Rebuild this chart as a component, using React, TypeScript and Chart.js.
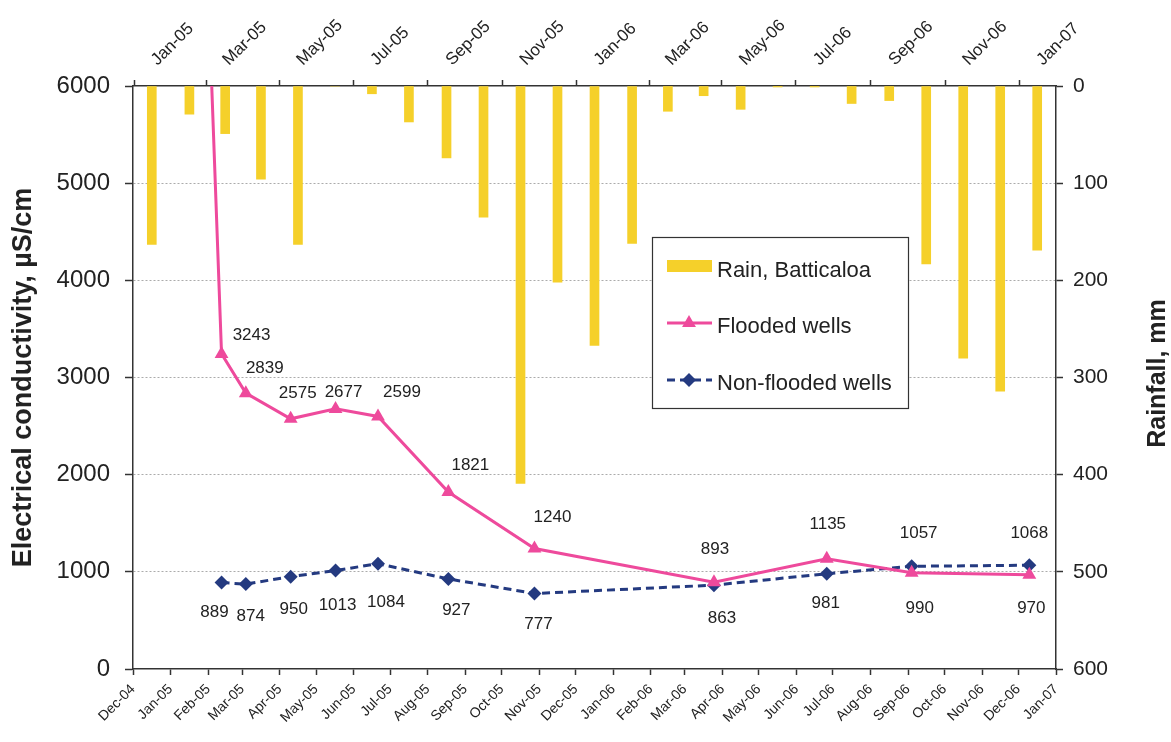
import React, { useEffect, useRef } from 'react';
import { Chart, registerables } from 'chart.js';

Chart.register(...registerables);

const FONT = '"Liberation Sans", Arial, Helvetica, sans-serif';

// ---------- data ----------
const bottomTickLabels = ['Dec-04','Jan-05','Feb-05','Mar-05','Apr-05','May-05','Jun-05','Jul-05','Aug-05','Sep-05','Oct-05','Nov-05','Dec-05','Jan-06','Feb-06','Mar-06','Apr-06','May-06','Jun-06','Jul-06','Aug-06','Sep-06','Oct-06','Nov-06','Dec-06','Jan-07'];
const topTickLabels = ['Jan-05','Mar-05','May-05','Jul-05','Sep-05','Nov-05','Jan-06','Mar-06','May-06','Jul-06','Sep-06','Nov-06','Jan-07'];

const rainMonths = ['2004-12','2005-01','2005-02','2005-03','2005-04','2005-05','2005-06','2005-07','2005-08','2005-09','2005-10','2005-11','2005-12','2006-01','2006-02','2006-03','2006-04','2006-05','2006-06','2006-07','2006-08','2006-09','2006-10','2006-11','2006-12'];
const rainMm = [163, 29, 49, 96, 163, 0, 8, 37, 74, 135, 409, 202, 267, 162, 26, 10, 24, 1, 1, 18, 15, 183, 280, 314, 169];

const floodedDates = ['2005-01-10','2005-02-12','2005-03-04','2005-04-10','2005-05-17','2005-06-21','2005-08-18','2005-10-28','2006-03-25','2006-06-26','2006-09-04','2006-12-10'];
const floodedEC = [14500, 3243, 2839, 2575, 2677, 2599, 1821, 1240, 893, 1135, 990, 970];

const nonFloodedDates = ['2005-02-12','2005-03-04','2005-04-10','2005-05-17','2005-06-21','2005-08-18','2005-10-28','2006-03-25','2006-06-26','2006-09-04','2006-12-10'];
const nonFloodedEC = [889, 874, 950, 1013, 1084, 927, 777, 863, 981, 1057, 1068];

// ---------- label placement (pixel offsets from the point) ----------
const floodedLabelOffsets: (number[] | null)[] = [null, [30,-19], [19,-25], [7,-25], [8,-17], [24,-24], [22,-27], [18,-31], [1,-33], [1,-34], [8,36], [2,34]];
const nonFloodedLabelOffsets: (number[] | null)[] = [[-7,30], [5,32], [3,33], [2,35], [8,39], [8,31], [4,31], [8,33], [-1,30], [7,-33], [0,-32]];

// ---------- helpers ----------
const MONTHS = ['Jan','Feb','Mar','Apr','May','Jun','Jul','Aug','Sep','Oct','Nov','Dec'];
const DAY = 86400000;
const ORIGIN = Date.UTC(2004, 11, 1);
const dayOf = (iso: string) => {
  const [y, m, d] = iso.split('-').map(Number);
  return (Date.UTC(y, m - 1, d || 1) - ORIGIN) / DAY;
};
const labelDay = (lbl: string) => {
  const [mon, yy] = lbl.split('-');
  return (Date.UTC(2000 + Number(yy), MONTHS.indexOf(mon), 1) - ORIGIN) / DAY;
};
const midMonth = (ym: string) => {
  const [y, m] = ym.split('-').map(Number);
  return ((Date.UTC(y, m - 1, 1) + Date.UTC(y, m, 1)) / 2 - ORIGIN) / DAY;
};

const X_MIN = labelDay(bottomTickLabels[0]);
const X_MAX = labelDay(bottomTickLabels[bottomTickLabels.length - 1]);

const PINK = '#EE4A9C';
const NAVY = '#243A80';
const YELLOW = '#F5D02A';
const TEXT = '#222';
const AXIS = '#333';

const valueLabelsPlugin = {
  id: 'valueLabels',
  afterDatasetsDraw(chart: any) {
    const { ctx } = chart;
    ctx.save();
    ctx.font = `17px ${FONT}`;
    ctx.fillStyle = TEXT;
    ctx.textAlign = 'center';
    ctx.textBaseline = 'middle';
    const sets: [number, (number[] | null)[], number[]][] = [
      [1, floodedLabelOffsets, floodedEC],
      [2, nonFloodedLabelOffsets, nonFloodedEC],
    ];
    for (const [di, offs, vals] of sets) {
      const meta = chart.getDatasetMeta(di);
      meta.data.forEach((pt: any, i: number) => {
        const o = offs[i];
        if (!o) return;
        ctx.fillText(String(vals[i]), pt.x + o[0], pt.y + o[1]);
      });
    }
    ctx.restore();
  },
};

const boxLegendPlugin = {
  id: 'boxLegend',
  afterDraw(chart: any) {
    const { ctx, chartArea } = chart;
    const x0 = chartArea.left + 519;
    const y0 = chartArea.top + 151;
    const w = 256, h = 171;
    ctx.save();
    ctx.fillStyle = '#fff';
    ctx.fillRect(x0, y0, w, h);
    ctx.strokeStyle = AXIS;
    ctx.lineWidth = 1.2;
    ctx.strokeRect(x0 + 0.5, y0 + 0.5, w, h);

    const sx1 = x0 + 15, sx2 = x0 + 60, cx = x0 + 37;
    // rain swatch
    ctx.fillStyle = YELLOW;
    ctx.fillRect(sx1, y0 + 23, sx2 - sx1, 12);
    // flooded
    ctx.strokeStyle = PINK;
    ctx.lineWidth = 3;
    ctx.beginPath();
    ctx.moveTo(sx1, y0 + 86);
    ctx.lineTo(sx2, y0 + 86);
    ctx.stroke();
    ctx.fillStyle = PINK;
    ctx.beginPath();
    ctx.moveTo(cx, y0 + 86 - 8);
    ctx.lineTo(cx + 6.93, y0 + 86 + 4);
    ctx.lineTo(cx - 6.93, y0 + 86 + 4);
    ctx.closePath();
    ctx.fill();
    // non flooded
    ctx.strokeStyle = NAVY;
    ctx.setLineDash([8, 5]);
    ctx.beginPath();
    ctx.moveTo(sx1, y0 + 143);
    ctx.lineTo(sx2, y0 + 143);
    ctx.stroke();
    ctx.setLineDash([]);
    ctx.fillStyle = NAVY;
    ctx.beginPath();
    ctx.moveTo(cx, y0 + 143 - 7);
    ctx.lineTo(cx + 7, y0 + 143);
    ctx.lineTo(cx, y0 + 143 + 7);
    ctx.lineTo(cx - 7, y0 + 143);
    ctx.closePath();
    ctx.fill();

    ctx.fillStyle = TEXT;
    ctx.font = `22px ${FONT}`;
    ctx.textAlign = 'left';
    ctx.textBaseline = 'alphabetic';
    const names = chart.data.datasets.map((d: any) => d.label);
    ctx.fillText(names[0], x0 + 65, y0 + 40);
    ctx.fillText(names[1], x0 + 65, y0 + 96);
    ctx.fillText(names[2], x0 + 65, y0 + 153);
    ctx.restore();
  },
};

const rightTitlePlugin = {
  id: 'rightTitle',
  afterDraw(chart: any) {
    const { ctx, chartArea } = chart;
    ctx.save();
    ctx.translate(chartArea.right + 102, (chartArea.top + chartArea.bottom) / 2 - 4);
    ctx.rotate(-Math.PI / 2);
    ctx.font = `bold 25px ${FONT}`;
    ctx.fillStyle = TEXT;
    ctx.textAlign = 'center';
    ctx.textBaseline = 'middle';
    ctx.fillText('Rainfall, mm', 0, 0);
    ctx.restore();
  },
};

export default function App() {
  const ref = useRef<HTMLCanvasElement>(null);

  useEffect(() => {
    document.body.style.margin = '0';
    Chart.defaults.font.family = FONT;
    const chart = new Chart(ref.current as HTMLCanvasElement, {
      type: 'line',
      data: {
        datasets: [
          {
            type: 'bar',
            label: 'Rain, Batticaloa',
            data: rainMonths.map((m, i) => ({ x: midMonth(m), y: rainMm[i] })),
            backgroundColor: YELLOW,
            borderWidth: 0,
            barThickness: 9,
            xAxisID: 'x',
            yAxisID: 'yR',
            order: 3,
          } as any,
          {
            type: 'line',
            label: 'Flooded wells',
            data: floodedDates.map((d, i) => ({ x: dayOf(d), y: floodedEC[i] })),
            borderColor: PINK,
            backgroundColor: PINK,
            borderWidth: 3,
            pointStyle: 'triangle',
            pointRadius: 8,
            pointBorderWidth: 0,
            tension: 0,
            xAxisID: 'x',
            yAxisID: 'y',
            order: 1,
          } as any,
          {
            type: 'line',
            label: 'Non-flooded wells',
            data: nonFloodedDates.map((d, i) => ({ x: dayOf(d), y: nonFloodedEC[i] })),
            borderColor: NAVY,
            backgroundColor: NAVY,
            borderWidth: 3,
            borderDash: [8, 5],
            pointStyle: 'rectRot',
            pointRadius: 7,
            pointBorderWidth: 0,
            tension: 0,
            xAxisID: 'x',
            yAxisID: 'y',
            order: 2,
          } as any,
        ],
      },
      options: {
        responsive: false,
        devicePixelRatio: 1,
        animation: false,
        layout: { padding: 0 },
        plugins: {
          legend: { display: false },
          tooltip: { enabled: false },
        },
        scales: {
          x: {
            type: 'linear',
            position: 'bottom',
            min: X_MIN,
            max: X_MAX,
            offset: false,
            afterBuildTicks: (s: any) => {
              s.ticks = bottomTickLabels.map((l) => ({ value: labelDay(l) }));
            },
            ticks: {
              autoSkip: false,
              minRotation: 45,
              maxRotation: 45,
              font: { size: 14 },
              color: TEXT,
              padding: 6,
              callback: (_v: any, i: number) => bottomTickLabels[i],
            },
            grid: { offset: false, drawOnChartArea: false, drawTicks: true, tickLength: 6, tickColor: AXIS, tickWidth: 1.5 },
            border: { display: true, color: AXIS, width: 1.5 },
            afterFit: (s: any) => { s.height = 73; },
          },
          x2: {
            type: 'linear',
            position: 'top',
            min: X_MIN,
            max: X_MAX,
            offset: false,
            afterBuildTicks: (s: any) => {
              s.ticks = topTickLabels.map((l) => ({ value: labelDay(l) }));
            },
            ticks: {
              autoSkip: false,
              minRotation: 45,
              maxRotation: 45,
              font: { size: 17 },
              color: TEXT,
              padding: 10,
              labelOffset: -2,
              callback: (_v: any, i: number) => topTickLabels[i],
            },
            grid: { offset: true, drawOnChartArea: false, drawTicks: true, tickLength: 6, tickColor: AXIS, tickWidth: 1.5 },
            border: { display: true, color: AXIS, width: 1.5 },
            afterFit: (s: any) => { s.height = 86; },
          },
          y: {
            type: 'linear',
            position: 'left',
            min: 0,
            max: 6000,
            ticks: { stepSize: 1000, font: { size: 24 }, color: TEXT, padding: 15, callback: (v: any) => String(v) },
            grid: {
              color: (c: any) => (!c.tick || c.tick.value === 0 || c.tick.value === 6000 ? 'rgba(0,0,0,0)' : '#ababab'),
              lineWidth: 1,
              drawTicks: true,
              tickLength: 8,
              tickColor: AXIS,
              tickWidth: 1.5,
            },
            border: { display: true, color: AXIS, width: 1.5, dash: [2, 2] },
            title: {
              display: true,
              text: 'Electrical conductivity, µS/cm',
              font: { size: 27, weight: 'bold' },
              color: TEXT,
              padding: { top: 7, bottom: 0 },
            },
            afterFit: (s: any) => { s.width = 133; },
          },
          yR: {
            type: 'linear',
            position: 'right',
            reverse: true,
            min: 0,
            max: 600,
            ticks: { stepSize: 100, font: { size: 21 }, color: TEXT, padding: 10, callback: (v: any) => String(v) },
            grid: { drawOnChartArea: false, drawTicks: true, tickLength: 7, tickColor: AXIS, tickWidth: 1.5 },
            border: { display: true, color: AXIS, width: 1.5 },
            afterFit: (s: any) => { s.width = 115; },
          },
        },
      } as any,
      plugins: [valueLabelsPlugin, boxLegendPlugin, rightTitlePlugin],
    });
    return () => chart.destroy();
  }, []);

  return (
    <div style={{ position: 'absolute', left: 0, top: 0, width: 1171, height: 742, background: '#fff' }}>
      <canvas ref={ref} width={1171} height={742} style={{ display: 'block' }} />
    </div>
  );
}
